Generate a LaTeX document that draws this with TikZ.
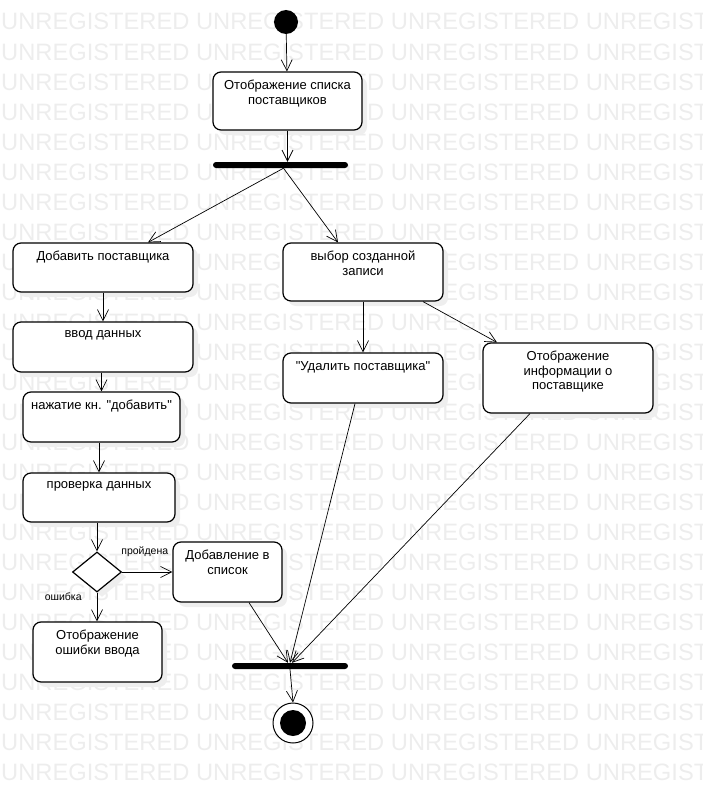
\documentclass[tikz,border=0pt]{standalone}
\usepackage{fontspec}
\setmainfont{Liberation Sans}[Ligatures=TeXOff]
\usetikzlibrary{arrows.meta,shapes.geometric,shadows}
\definecolor{wmgray}{RGB}{237,237,237}
\definecolor{shgray}{RGB}{238,238,238}

\begin{document}
\begin{tikzpicture}[x=1pt,y=-1pt,
    act/.style={draw, line width=1.2pt, rounded corners=8pt, fill=white,
        general shadow={fill=shgray, shadow xshift=5pt, shadow yshift=-5pt}},
    txt/.style={anchor=north, yshift=-8.5pt, align=center, inner sep=0pt,
        font=\fontsize{13}{14.5}\selectfont},
    bar/.style={fill=black, rounded corners=3pt, minimum height=6pt, inner sep=0pt},
    flow/.style={-{Straight Barb[length=11pt,width=11pt]}, line width=0.7pt},
    guard/.style={font=\fontsize{10.5}{12}\selectfont, inner sep=1pt},
    wm/.style={text=wmgray, anchor=base west, inner sep=0pt,
        font=\fontsize{23.7}{24}\selectfont}]
    \useasboundingbox (0,0) rectangle (702,792);

    % watermark rows
    \begin{scope}
        \clip (0,0) rectangle (702,792);
        \foreach \r in {0,...,25}
            \node[wm] at (1,{30+30*\r}) {UNREGISTERED UNREGISTERED UNREGISTERED UNREGISTERED};
    \end{scope}

    % start and the first action
    \node[circle, fill=black, minimum size=24, inner sep=0pt] (start) at (286,22) {};
    \node[act, minimum width=149, minimum height=58,
        label={[txt]north:Отображение списка\\поставщиков}] (show) at (287.5,101) {};
    \node[bar, minimum width=135] (fork) at (280.5,165) {};

    % left branch: adding a supplier
    \node[act, minimum width=180, minimum height=49,
        label={[txt]north:Добавить поставщика}] (add) at (103,267.5) {};
    \node[act, minimum width=180, minimum height=50,
        label={[txt]north:ввод данных}] (input) at (103,347) {};
    \node[act, minimum width=157, minimum height=50,
        label={[txt]north:нажатие кн. "добавить"}] (press) at (101.5,417) {};
    \node[act, minimum width=152, minimum height=49,
        label={[txt]north:проверка данных}] (check) at (99,497.5) {};
    \node[draw, diamond, line width=1.2pt, fill=white, aspect=1.22,
        minimum width=49, minimum height=40, inner sep=0pt,
        general shadow={fill=shgray, shadow xshift=5pt, shadow yshift=-5pt}] (dec) at (97,572) {};
    \node[act, minimum width=109, minimum height=60,
        label={[txt]north:Добавление в\\список}] (append) at (227.5,572) {};
    \node[act, minimum width=129, minimum height=60,
        label={[txt]north:Отображение\\ошибки ввода}] (err) at (97.5,652) {};

    % right branch: choosing a record
    \node[act, minimum width=160, minimum height=58,
        label={[txt]north:выбор созданной\\записи}] (pick) at (363,272) {};
    \node[act, minimum width=160, minimum height=50,
        label={[txt]north:"Удалить поставщика"}] (del) at (363,378) {};
    \node[act, minimum width=170, minimum height=70,
        label={[txt]north:Отображение\\информации о\\поставщике}] (info) at (568,378) {};

    % join and the end
    \node[bar, minimum width=116] (join) at (290,666) {};
    \node[circle, draw, line width=1pt, fill=white, minimum size=40, inner sep=0pt] (stop) at (293,723) {};
    \node[circle, fill=black, minimum size=26, inner sep=0pt] (stopdot) at (stop) {};

    % transitions
    \draw[flow] (start) -- (show);
    \draw[flow] (show.south) -- (show.south |- fork.north);
    \draw[flow] ([xshift=3pt]fork.south) -- ([xshift=45pt]add.north);
    \draw[flow] ([xshift=3pt]fork.south) -- ([xshift=-25pt]pick.north);
    \draw[flow] (add) -- (input);
    \draw[flow] (press.north |- input.south) -- (press.north);
    \draw[flow] (check.north |- press.south) -- (check.north);
    \draw[flow] (dec.north |- check.south) -- (dec.north);
    \draw[flow] (dec.east) -- (append.west |- dec.east)
        node[guard, pos=0.45, above=14pt] {пройдена};
    \draw[flow] (dec.south) -- (err.north -| dec.south)
        node[guard, pos=0.15, left=14pt] {ошибка};
    \draw[flow] (pick) -- (del);
    \draw[flow] ([xshift=60pt]pick.south) -- ([xshift=-71pt]info.north);
    \draw[flow] ([xshift=-8pt]del.south) -- (join.north);
    \draw[flow] ([xshift=-38pt]info.south) -- ([xshift=2pt]join.north);
    \draw[flow] ([xshift=21.5pt]append.south) -- ([xshift=-2pt]join.north);
    \draw[flow] (join.south) -- (stop.north);
\end{tikzpicture}
\end{document}
